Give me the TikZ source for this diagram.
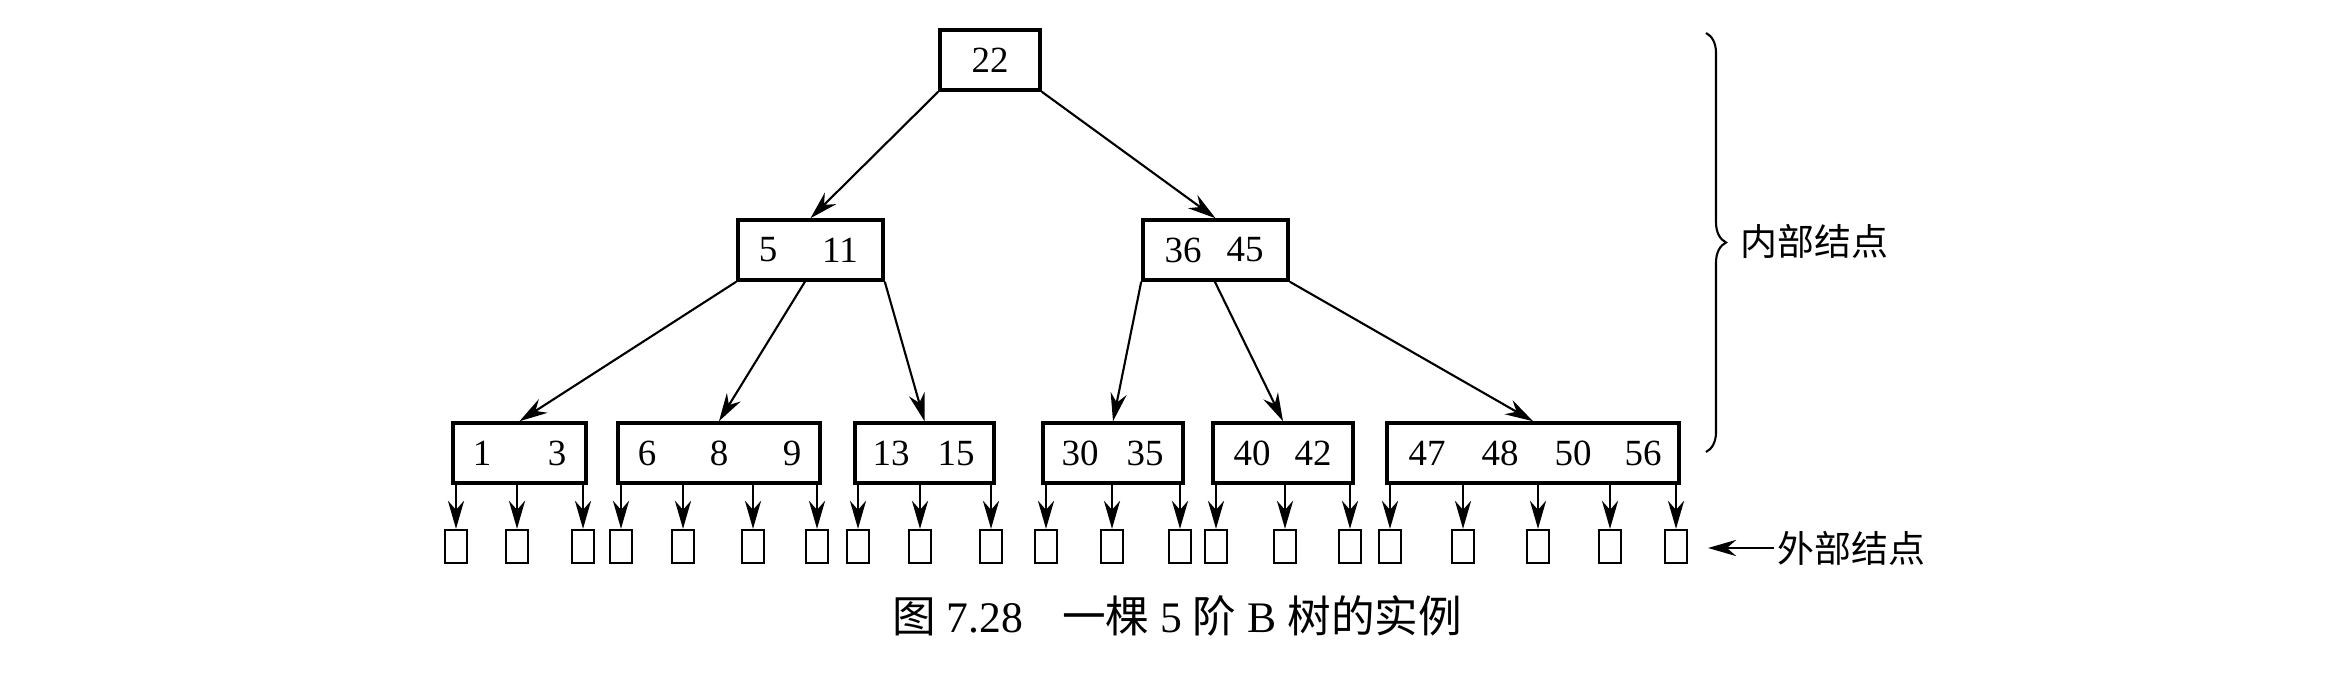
\documentclass[tikz,border=0pt]{standalone}
\usepackage{fontspec}
\setmainfont{Liberation Serif}
\newfontfamily\cjk{Noto Sans CJK SC}
\usetikzlibrary{arrows.meta,decorations.pathreplacing}

\begin{document}
\begin{tikzpicture}[x=0.01cm,y=-0.01cm,
		bnode/.style={draw,line width=1pt,inner sep=0pt,minimum height=0.6cm},
		key/.style={font=\fontsize{10.5}{12}\selectfont,inner sep=0pt},
		ext/.style={draw,line width=0.65pt,inner sep=0pt,minimum width=0.22cm,minimum height=0.33cm},
		ptr/.style={-{Stealth[length=8pt,width=4.6pt,inset=2.6pt]},line width=0.6pt}]
		\useasboundingbox (0,0) rectangle (2352,683);
		% internal nodes
		\node[bnode,minimum width=1cm] (root) at (990,60) {};
		\node[key] at (990,60) {22};
		\node[bnode,minimum width=1.45cm] (lm) at (810.5,250) {};
		\node[key] at (768,250) {5};
		\node[key] at (840,250) {11};
		\node[bnode,minimum width=1.45cm] (rm) at (1215.5,250) {};
		\node[key] at (1183,250) {36};
		\node[key] at (1245,250) {45};
		\node[bnode,minimum width=1.33cm] (a) at (519.5,453) {};
		\node[key] at (482,453) {1};
		\node[key] at (557,453) {3};
		\node[bnode,minimum width=2.02cm] (b) at (719,453) {};
		\node[key] at (647,453) {6};
		\node[key] at (719,453) {8};
		\node[key] at (792,453) {9};
		\node[bnode,minimum width=1.39cm] (c) at (924.5,453) {};
		\node[key] at (891,453) {13};
		\node[key] at (956,453) {15};
		\node[bnode,minimum width=1.4cm] (d) at (1113,453) {};
		\node[key] at (1080,453) {30};
		\node[key] at (1145,453) {35};
		\node[bnode,minimum width=1.4cm] (e) at (1283,453) {};
		\node[key] at (1252,453) {40};
		\node[key] at (1313,453) {42};
		\node[bnode,minimum width=2.92cm] (f) at (1533,453) {};
		\node[key] at (1427,453) {47};
		\node[key] at (1500,453) {48};
		\node[key] at (1573,453) {50};
		\node[key] at (1643,453) {56};
		\coordinate (lm-p) at (806,280);
		\coordinate (rm-p) at (1214,280);
		\draw[ptr] (root.south west) -- (lm.north);
		\draw[ptr] (root.south east) -- (rm.north);
		\draw[ptr] (lm.south west) -- (a.north);
		\draw[ptr] (lm-p) -- (b.north);
		\draw[ptr] (lm.south east) -- (c.north);
		\draw[ptr] (rm.south west) -- (d.north);
		\draw[ptr] (rm-p) -- (e.north);
		\draw[ptr] (rm.south east) -- (f.north);
		% external nodes
		\foreach \x [count=\i] in {456,517,583,621,683,753,817,858,920,991,1046,1112,1180,1216,1285,1350,1390,1463,1538,1610,1676}{
			\coordinate (p\i) at (\x,483);
			\node[ext] (x\i) at (\x,546.5) {};
			\draw[ptr] (p\i) -- (x\i);
		}
		\draw[decorate,decoration={brace,amplitude=0.2cm},line width=0.6pt] (1706,33) -- (1706,452);
		\node[anchor=west,font=\fontsize{10.5}{12}\selectfont\cjk,inner sep=0pt] (inner) at (1740,241) {内部结点};
		\node[anchor=west,font=\fontsize{10.5}{12}\selectfont\cjk,inner sep=0pt] (outer) at (1777,548) {外部结点};
		\coordinate (outer-tip) at (1708,548);
		\draw[ptr] ([xshift=-1pt]outer.west) -- (outer-tip);
		\node[font=\fontsize{12.4}{14}\selectfont] (cap) at (1177,616) {{\cjk 图}~7.28\hspace{0.9em}{\cjk 一棵}~5~{\cjk 阶}~B~{\cjk 树的实例}};
	\end{tikzpicture}
\end{document}
